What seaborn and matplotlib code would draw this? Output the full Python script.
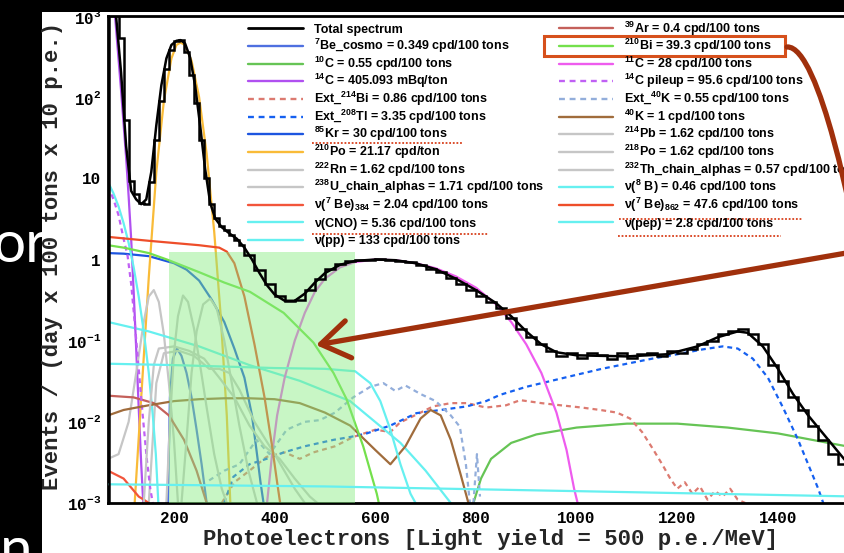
import numpy as np
import pandas as pd
import matplotlib
matplotlib.use("Agg")
import matplotlib.pyplot as plt
import matplotlib.transforms as mtransforms
from matplotlib.lines import Line2D
from matplotlib.patches import Rectangle, FancyArrowPatch
from matplotlib.path import Path
from matplotlib.ticker import FixedLocator, MultipleLocator, LogLocator, NullFormatter
import seaborn as sns

sns.set_style("white")
plt.rcParams.update({
    "mathtext.fontset": "custom",
    "mathtext.rm": "Liberation Sans:bold",
    "mathtext.it": "Liberation Sans:bold:italic",
    "mathtext.bf": "Liberation Sans:bold",
    "mathtext.tt": "Liberation Mono:bold",
    "font.family": ["Liberation Sans", "DejaVu Sans"],
})

# ---------------- data ----------------
hist_low_edges_start, hist_low_step = 70, 10
hist_high_edges_start, hist_high_step, hist_end = 340, 20, 1541
hist_low = [3000, 1500, 535, 52, 9.3, 6.5, 5.0, 4.8, 9, 30, 90, 220, 380, 490, 500,
            360, 190, 85, 30, 10, 4.8, 3.2, 2.6, 2.3, 2.0, 1.75, 1.5]
hist_high = [1.15, 0.75, 0.5, 0.36, 0.31, 0.32, 0.42, 0.58, 0.76, 0.88, 0.95, 0.98, 1.0,
             1.02, 1.0, 0.97, 0.93, 0.86, 0.76, 0.7, 0.6, 0.5, 0.42, 0.36, 0.3, 0.25, 0.19,
             0.14, 0.11, 0.09, 0.075, 0.065, 0.07, 0.062, 0.07, 0.066, 0.06, 0.07, 0.062,
             0.068, 0.07, 0.065, 0.075, 0.07, 0.08, 0.09, 0.1, 0.12, 0.13, 0.14, 0.12, 0.09,
             0.05, 0.032, 0.02, 0.014, 0.009, 0.006, 0.004, 0.003]

total_x = [69, 85, 95, 105, 115, 125, 135, 145, 155, 165, 175, 185, 195, 205, 213, 222, 232,
           242, 252, 262, 272, 282, 295, 310, 325, 340, 355, 370, 385, 400, 420, 440, 460,
           480, 500, 530, 560, 600, 640, 680, 720, 760, 800, 840, 870, 900, 930, 960, 1000,
           1100, 1180, 1240, 1280, 1320, 1340, 1370, 1400, 1430, 1460, 1500, 1540]
total_y = [3000, 1000, 200, 25, 7, 5.5, 4.8, 5.5, 12, 45, 140, 300, 440, 495, 505, 460, 310,
           140, 45, 13, 5, 3.2, 2.5, 2.1, 1.8, 1.4, 1.0, 0.68, 0.48, 0.37, 0.31, 0.31, 0.38,
           0.52, 0.68, 0.86, 0.96, 1.0, 0.98, 0.9, 0.76, 0.58, 0.42, 0.29, 0.2, 0.13, 0.09,
           0.072, 0.066, 0.064, 0.068, 0.085, 0.11, 0.13, 0.125, 0.085, 0.045, 0.022, 0.012,
           0.006, 0.003]

be7c_x = [188, 192, 198, 206, 215, 225, 235, 245, 255, 265]
be7c_y = [0.001, 0.02, 0.06, 0.08, 0.065, 0.04, 0.02, 0.008, 0.003, 0.001]
c10_x = [795, 810, 830, 870, 920, 1000, 1100, 1200, 1300, 1400, 1500, 1560]
c10_y = [0.001, 0.002, 0.0035, 0.0055, 0.007, 0.0085, 0.0095, 0.0095, 0.0085, 0.0072, 0.0055, 0.0047]
c14_x = [69, 83, 95, 105, 110, 115, 120, 125, 130, 135, 139]
c14_y = [3000, 1000, 120, 18, 6, 1.8, 0.4, 0.08, 0.015, 0.003, 0.001]
bi214e_x = [295, 320, 350, 384, 420, 450, 477, 520, 556, 600, 630, 649, 690, 715, 750, 782,
            820, 860, 888, 930, 968, 1010, 1047, 1080, 1106, 1130, 1150, 1170, 1186, 1200,
            1215, 1230, 1245, 1260, 1275, 1290, 1305, 1320, 1335]
bi214e_y = [0.001, 0.0018, 0.0025, 0.0037, 0.0042, 0.0035, 0.0042, 0.005, 0.0065, 0.008,
            0.0075, 0.0098, 0.013, 0.0155, 0.017, 0.017, 0.015, 0.016, 0.0185, 0.017, 0.016,
            0.015, 0.014, 0.013, 0.011, 0.0075, 0.0048, 0.003, 0.002, 0.0015, 0.0018, 0.0013,
            0.0016, 0.0011, 0.0014, 0.0012, 0.0015, 0.0011, 0.001]
tl208e_x = [300, 318, 350, 384, 418, 460, 517, 550, 583, 630, 682, 730, 782, 820, 848, 900,
            950, 1000, 1050, 1100, 1150, 1200, 1250, 1290, 1320, 1350, 1380, 1410, 1440,
            1460, 1480, 1490]
tl208e_y = [0.001, 0.0021, 0.003, 0.0035, 0.0042, 0.005, 0.006, 0.0065, 0.0072, 0.009,
            0.0128, 0.014, 0.0155, 0.018, 0.0215, 0.027, 0.032, 0.038, 0.045, 0.052, 0.06,
            0.068, 0.078, 0.085, 0.08, 0.06, 0.035, 0.015, 0.006, 0.003, 0.0015, 0.001]
kr85_x = [69, 100, 150, 200, 225, 250, 275, 300, 320, 340, 355, 365, 372, 378]
kr85_y = [1.2, 1.18, 1.1, 0.9, 0.75, 0.55, 0.32, 0.17, 0.08, 0.035, 0.012, 0.004, 0.0018, 0.001]
po210_x = [122, 135, 150, 165, 180, 195, 205, 213, 222, 235, 250, 265, 280, 293, 305, 312]
po210_y = [0.001, 0.02, 0.6, 12, 90, 300, 440, 470, 440, 280, 100, 20, 2.2, 0.2, 0.012, 0.001]
rn222_x = [69, 90, 110, 125, 140, 150, 160, 170, 180, 190, 200, 208]
rn222_y = [0.0035, 0.004, 0.01, 0.04, 0.17, 0.35, 0.42, 0.3, 0.12, 0.03, 0.006, 0.001]
u238_x = [150, 165, 180, 210, 240, 270, 290, 310, 330, 360, 400, 440, 460]
u238_y = [0.001, 0.03, 0.07, 0.075, 0.065, 0.045, 0.045, 0.04, 0.025, 0.01, 0.004, 0.0015, 0.001]
be7a_x = [69, 100, 130, 140, 150]
be7a_y = [0.0025, 0.002, 0.0012, 0.0011, 0.001]
cno_x = [69, 150, 250, 350, 450, 550, 650, 700, 740, 750]
cno_y = [0.17, 0.13, 0.085, 0.05, 0.032, 0.018, 0.0055, 0.0025, 0.0012, 0.001]
pp_x = [69, 80, 90, 100, 110, 120, 130, 140, 150, 158, 164, 169]
pp_y = [9, 6.5, 4.5, 2.8, 1.6, 0.8, 0.35, 0.13, 0.04, 0.012, 0.004, 0.001]
ar39_x = [69, 120, 160, 190, 220, 245, 265]
ar39_y = [0.021, 0.02, 0.017, 0.012, 0.006, 0.0025, 0.001]
bi210_x = [69, 100, 150, 186, 252, 300, 351, 418, 477, 517, 543, 576, 603, 607]
bi210_y = [1.5, 1.4, 1.2, 1.0, 0.69, 0.52, 0.4, 0.22, 0.095, 0.04, 0.019, 0.005, 0.0013, 0.001]
c11_x = [385, 395, 405, 420, 440, 460, 480, 500, 530, 560, 600, 640, 680, 720, 760, 800,
         840, 870, 900, 930, 960, 980, 995, 1002]
c11_y = [0.001, 0.004, 0.012, 0.035, 0.1, 0.22, 0.4, 0.58, 0.8, 0.93, 1.0, 0.98, 0.9, 0.78,
         0.62, 0.45, 0.28, 0.17, 0.09, 0.04, 0.013, 0.0045, 0.0015, 0.001]
c14p_x = [69, 80, 90, 100, 108, 115, 122, 130, 138, 146, 153, 158]
c14p_y = [8, 5.5, 3.5, 1.8, 1.1, 0.5, 0.17, 0.045, 0.012, 0.0035, 0.0015, 0.001]
k40e_x = [270, 300, 330, 364, 390, 424, 460, 490, 520, 556, 590, 616, 640, 660, 690, 720,
          750, 768, 780, 788]
k40e_y = [0.0019, 0.0025, 0.003, 0.006, 0.004, 0.008, 0.01, 0.0105, 0.013, 0.02, 0.027,
          0.03, 0.024, 0.028, 0.022, 0.018, 0.012, 0.0087, 0.003, 0.001]
k40e_spike_x = [795, 802, 808]
k40e_spike_y = [0.001, 0.004, 0.0012]
k40_x = [69, 100, 150, 200, 250, 300, 350, 400, 450, 500, 550, 600, 630, 660, 690, 710,
         730, 750, 770, 785]
k40_y = [0.012, 0.014, 0.016, 0.018, 0.019, 0.0195, 0.0195, 0.019, 0.017, 0.013, 0.009,
         0.0045, 0.003, 0.005, 0.011, 0.014, 0.012, 0.006, 0.0022, 0.001]
pb214_x = [140, 150, 160, 170, 200, 230, 260, 290, 320, 350, 380, 410, 440, 470, 485]
pb214_y = [0.001, 0.01, 0.05, 0.08, 0.085, 0.075, 0.06, 0.035, 0.02, 0.009, 0.005, 0.0035,
           0.002, 0.0012, 0.001]
po218_x = [185, 192, 200, 208, 218, 228, 240, 252, 265, 280, 295, 305]
po218_y = [0.001, 0.01, 0.07, 0.2, 0.36, 0.3, 0.14, 0.05, 0.015, 0.004, 0.0015, 0.001]
th232_x = [215, 225, 235, 245, 258, 272, 285, 300, 315, 330, 348, 365]
th232_y = [0.001, 0.006, 0.04, 0.13, 0.28, 0.33, 0.25, 0.1, 0.03, 0.009, 0.0025, 0.001]
b8_x = [69, 500, 1000, 1560]
b8_y = [0.0017, 0.0016, 0.0014, 0.0012]
be7b_x = [69, 150, 250, 290, 305, 320, 340, 360, 380, 395, 405, 411]
be7b_y = [1.9, 1.7, 1.5, 1.4, 1.25, 0.9, 0.35, 0.09, 0.02, 0.005, 0.0018, 0.001]
pep_x = [69, 200, 300, 400, 500, 560, 590, 610, 630, 650, 670, 680]
pep_y = [0.052, 0.05, 0.048, 0.046, 0.045, 0.042, 0.03, 0.018, 0.008, 0.003, 0.0013, 0.001]

band_lo, band_hi, band_top = 190, 560, 1.24

# ---------------- component table ----------------
CYAN = "#66f0f0"
GREY = "#c6c6c6"
components = [
    ("be7c", be7c_x, be7c_y, "#4f70e0", False),
    ("c10", c10_x, c10_y, "#66c455", False),
    ("c14", c14_x, c14_y, "#b050f0", False),
    ("bi214e", bi214e_x, bi214e_y, "#dc7a70", True),
    ("tl208e", tl208e_x, tl208e_y, "#1560f0", True),
    ("kr85", kr85_x, kr85_y, "#1d55e0", False),
    ("po210", po210_x, po210_y, "#f9bb38", False),
    ("rn222", rn222_x, rn222_y, GREY, False),
    ("u238", u238_x, u238_y, GREY, False),
    ("be7a", be7a_x, be7a_y, "#f2553b", False),
    ("cno", cno_x, cno_y, CYAN, False),
    ("pp", pp_x, pp_y, CYAN, False),
    ("ar39", ar39_x, ar39_y, "#c4605a", False),
    ("c11", c11_x, c11_y, "#ee5cee", False),
    ("c14p", c14p_x, c14p_y, "#c060f4", True),
    ("k40e", k40e_x, k40e_y, "#93aedb", True),
    ("k40e_b", k40e_spike_x, k40e_spike_y, "#93aedb", True),
    ("k40", k40_x, k40_y, "#a06c3c", False),
    ("pb214", pb214_x, pb214_y, GREY, False),
    ("po218", po218_x, po218_y, GREY, False),
    ("th232", th232_x, th232_y, GREY, False),
    ("be7b", be7b_x, be7b_y, "#ee4e2a", False),
    ("pep", pep_x, pep_y, CYAN, False),
    ("bi210", bi210_x, bi210_y, "#74e04c", False),
]
rows = []
for name, xs, ys, col, dsh in components:
    for xv, yv in zip(xs, ys):
        rows.append((name, xv, yv))
df = pd.DataFrame(rows, columns=["comp", "pe", "rate"])
palette = {c[0]: c[3] for c in components}
dashes = {c[0]: ((2.2, 1.8) if c[4] else "") for c in components}

# ---------------- figure ----------------
W, H = 845, 553
fig = plt.figure(figsize=(W / 100, H / 100), dpi=100, facecolor="black")
fig.add_artist(Rectangle((42 / W, 0), 1, 1 - 12 / H, transform=fig.transFigure,
                         facecolor="white", edgecolor="none", zorder=0.5))
fig.text(47 / W, 1 - 262 / H, "or", color="white", fontsize=42, fontfamily="Lato",
         fontweight="normal", ha="right", va="baseline", zorder=0.2)
fig.text(0 / W, 1 - 568 / H, "n", color="white", fontsize=42, fontfamily="Lato",
         fontweight="normal", ha="left", va="baseline", zorder=0.2)

ax = fig.add_axes([108 / W, 1 - 503 / H, (860 - 108) / W, (503 - 16) / H], zorder=1)
ax.set_yscale("log")
sns.lineplot(data=df, x="pe", y="rate", hue="comp", style="comp", palette=palette,
             dashes=dashes, estimator=None, sort=False, legend=False, lw=1.6, ax=ax)

ax.fill_between([band_lo, band_hi], [1e-3, 1e-3], [band_top, band_top],
                color="#86ec80", alpha=0.45, lw=0, zorder=4)
sns.lineplot(x=b8_x, y=b8_y, color=CYAN, lw=1.6, ax=ax, zorder=5)

edges = np.concatenate([np.arange(hist_low_edges_start, hist_high_edges_start, hist_low_step),
                        np.arange(hist_high_edges_start, hist_end, hist_high_step)])
ax.stairs(np.array(hist_low + hist_high), edges, color="black", lw=1.8, zorder=6)
sns.lineplot(x=total_x, y=total_y, color="black", lw=1.8, ax=ax, zorder=6)

ax.set_xlim(69, 1563)
ax.set_ylim(1e-3, 1e3)
ax.set_xlabel("")
ax.set_ylabel("")

ax.xaxis.set_major_locator(FixedLocator([200, 400, 600, 800, 1000, 1200, 1400]))
ax.xaxis.set_minor_locator(MultipleLocator(50))
ax.set_xticklabels(["200", "400", "600", "800", "1000", "1200", "1400"])
yt = [1e-3, 1e-2, 1e-1, 1, 10, 100, 1000]
ax.yaxis.set_major_locator(FixedLocator(yt))
ax.yaxis.set_minor_locator(LogLocator(base=10, subs=np.arange(2, 10)))
ax.yaxis.set_minor_formatter(NullFormatter())
ax.set_yticklabels([r"$\mathtt{10^{-3}}$", r"$\mathtt{10^{-2}}$", r"$\mathtt{10^{-1}}$", "1",
                    "10", r"$\mathtt{10^{2}}$", r"$\mathtt{10^{3}}$"])
ax.tick_params(axis="both", which="both", direction="in", colors="black", width=1.4)
ax.tick_params(axis="y", which="major", length=10, pad=5)
ax.tick_params(axis="y", which="minor", length=5.5)
ax.tick_params(axis="x", which="major", length=7, pad=6)
ax.tick_params(axis="x", which="minor", length=4)
for lab in ax.get_xticklabels() + ax.get_yticklabels():
    lab.set_fontfamily("Liberation Mono")
    lab.set_fontweight("bold")
    lab.set_fontsize(11.5)
for sp in ax.spines.values():
    sp.set_linewidth(2)
    sp.set_color("black")

fig.text(491 / W, 1 - 540 / H, "Photoelectrons [Light yield = 500 p.e./MeV]",
         fontfamily="Liberation Mono", fontweight="bold", fontsize=16,
         ha="center", va="center", zorder=3)
fig.text(53 / W, 1 - 256 / H, "Events / (day x 100 tons x 10 p.e.)", rotation=90,
         fontfamily="Liberation Mono", fontweight="bold", fontsize=16,
         ha="center", va="center", zorder=3)

# ---------------- legend (two columns) ----------------
left_entries = [
    ("Total spectrum", "black", False),
    (r"$^{7}$Be_cosmo = 0.349 cpd/100 tons", palette["be7c"], False),
    (r"$^{10}$C = 0.55 cpd/100 tons", palette["c10"], False),
    (r"$^{14}$C = 405.093 mBq/ton", palette["c14"], False),
    (r"Ext_$^{214}$Bi = 0.86 cpd/100 tons", palette["bi214e"], True),
    (r"Ext_$^{208}$Tl = 3.35 cpd/100 tons", palette["tl208e"], True),
    (r"$^{85}$Kr = 30 cpd/100 tons", palette["kr85"], False),
    (r"$^{210}$Po = 21.17 cpd/ton", palette["po210"], False),
    (r"$^{222}$Rn = 1.62 cpd/100 tons", GREY, False),
    (r"$^{238}$U_chain_alphas = 1.71 cpd/100 tons", GREY, False),
    (r"ν($^{7}$ Be)$_{384}$ = 2.04 cpd/100 tons", palette["be7a"], False),
    (r"ν(CNO) = 5.36 cpd/100 tons", CYAN, False),
    (r"ν(pp) = 133 cpd/100 tons", CYAN, False),
]
right_entries = [
    (r"$^{39}$Ar = 0.4 cpd/100 tons", palette["ar39"], False),
    (r"$^{210}$Bi = 39.3 cpd/100 tons", palette["bi210"], False),
    (r"$^{11}$C = 28 cpd/100 tons", palette["c11"], False),
    (r"$^{14}$C pileup = 95.6 cpd/100 tons", palette["c14p"], True),
    (r"Ext_$^{40}$K = 0.55 cpd/100 tons", palette["k40e"], True),
    (r"$^{40}$K = 1 cpd/100 tons", palette["k40"], False),
    (r"$^{214}$Pb = 1.62 cpd/100 tons", GREY, False),
    (r"$^{218}$Po = 1.62 cpd/100 tons", GREY, False),
    (r"$^{232}$Th_chain_alphas = 0.57 cpd/100 tons", GREY, False),
    (r"ν($^{8}$ B) = 0.46 cpd/100 tons", CYAN, False),
    (r"ν($^{7}$ Be)$_{862}$ = 47.6 cpd/100 tons", palette["be7b"], False),
    (r"ν(pep) = 2.8 cpd/100 tons", CYAN, False),
]

pix = mtransforms.Affine2D().scale(1 / W, -1 / H).translate(0, 1) + fig.transFigure


def draw_column(entries, x0, x1, xt):
    for i, (lab, col, dsh) in enumerate(entries):
        y = 28.3 + 17.65 * i
        ln = Line2D([x0, x1], [y, y], transform=pix, color=col, lw=2 if col == "black" else 1.7,
                    ls=(0, (2.5, 2)) if dsh else "-", zorder=3)
        fig.add_artist(ln)
        fig.text(xt / W, 1 - (y + 4.2) / H, lab, fontsize=9, fontweight="bold",
                 color="black", ha="left", va="baseline", zorder=3)


draw_column(left_entries, 248, 303, 314)
draw_column(right_entries, 559, 613, 624)

# ---------------- annotations ----------------
fig.add_artist(Rectangle((544, 36), 241, 20, transform=pix, fill=False,
                         edgecolor="#d6501c", lw=2.2, zorder=3))
for (xa, xb, yy) in [(312, 462, 142.5), (312, 488, 233.5), (619, 803, 218.5), (618, 781, 235.5)]:
    fig.add_artist(Line2D([xa, xb], [yy, yy], transform=pix, color="#d8401c", lw=1.3,
                          ls=(0, (1, 1)), zorder=3))

arrow_path = Path([(787, 47), (820, 45), (855, 230), (858, 251), (316, 345)],
                  [Path.MOVETO, Path.CURVE4, Path.CURVE4, Path.CURVE4, Path.LINETO])
arrow = FancyArrowPatch(path=arrow_path, transform=pix, arrowstyle="->,head_length=0.45,head_width=0.3",
                        mutation_scale=45, color="#a0300c", lw=3.8, zorder=7)
fig.add_artist(arrow)

fig.savefig("out.png", dpi=100, facecolor="black")
